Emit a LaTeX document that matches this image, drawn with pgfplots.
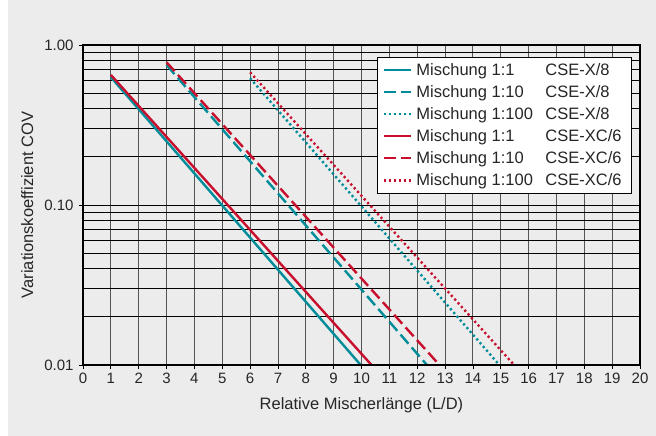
\documentclass[border=0pt]{standalone}
\usepackage{fontspec}
\setmainfont{Liberation Sans}
\usepackage{pgfplots}
\pgfplotsset{compat=1.18}
\usetikzlibrary{backgrounds,calc}
\definecolor{bggray}{RGB}{235,236,235}
\definecolor{myteal}{RGB}{0,140,153}
\definecolor{myred}{RGB}{200,16,46}
\definecolor{vgrid}{RGB}{85,85,85}
\begin{document}
\begin{tikzpicture}
\begin{axis}[
  scale only axis, width=557bp, height=320bp,
  xmin=0, xmax=20, ymode=log, log basis y=10, ymin=0.01, ymax=1,
  xtick={0,1,...,20},
  ytick={0.01,0.1,1}, yticklabels={0.01,0.10,1.00},
  minor ytick={0.02,0.03,0.04,0.05,0.06,0.07,0.08,0.09,0.2,0.3,0.4,0.5,0.6,0.7,0.8,0.9},
  /pgf/number format/assume math mode=true,
  tick label style={font=\fontsize{15bp}{18bp}\selectfont, text=black!85},
  label style={font=\fontsize{16.5bp}{19bp}\selectfont, text=black!85},
  tick pos=left, tick align=outside,
  major tick length=4bp, minor tick length=0bp,
  tick style={black, line width=0.8bp},
  xmajorgrids, ymajorgrids, yminorgrids,
  major x grid style={vgrid, line width=0.9bp},
  major y grid style={black, line width=1bp},
  minor y grid style={black, line width=0.9bp},
  axis line style={black, line width=1.2bp},
  axis background/.style={fill=bggray},
  xlabel={Relative Mischerlänge (L/D)},
  ylabel={Variationskoeffizient COV},
  xlabel style={at={(axis description cs:0.5,-0.125)}, anchor=center},
  ylabel style={at={(axis description cs:-0.1,0.5)}, anchor=center, rotate=0},
  xticklabel style={yshift=-1bp},
  yticklabel style={xshift=-2bp},
  legend style={at={(rel axis cs:0.9856,0.9625)}, anchor=north east,
    fill=white, draw=black, line width=0.8bp,
    font=\fontsize{16.5bp}{19bp}\selectfont, text=black!85,
    inner xsep=6bp, inner ysep=4bp, row sep=4.6bp,
    nodes={inner xsep=4bp}},
  legend cell align=left,
  legend image code/.code={\draw[#1] (0bp,0bp) -- (27bp,0bp);},
  every axis plot/.append style={line width=2.4bp},
]
\addplot[myteal] coordinates {(1,0.63) (9.97,0.01)};
\addlegendentry{\makebox[129bp][l]{Mischung 1:1}CSE-X/8}
\addplot[myteal, dash pattern=on 12bp off 5bp] coordinates {(3,0.75) (12.35,0.01)};
\addlegendentry{\makebox[129bp][l]{Mischung 1:10}CSE-X/8}
\addplot[myteal, dash pattern=on 2.2bp off 2.8bp] coordinates {(6,0.62) (14.95,0.01)};
\addlegendentry{\makebox[129bp][l]{Mischung 1:100}CSE-X/8}
\addplot[myred] coordinates {(1,0.65) (10.36,0.01)};
\addlegendentry{\makebox[129bp][l]{Mischung 1:1}CSE-XC/6}
\addplot[myred, dash pattern=on 12bp off 5bp] coordinates {(3,0.78) (12.8,0.01)};
\addlegendentry{\makebox[129bp][l]{Mischung 1:10}CSE-XC/6}
\addplot[myred, dash pattern=on 2.2bp off 2.8bp] coordinates {(6,0.675) (15.48,0.01)};
\addlegendentry{\makebox[129bp][l]{Mischung 1:100}CSE-XC/6}
\draw[black, line width=2bp] (rel axis cs:0,0) -- (rel axis cs:0,1);
\draw[black, line width=2bp] (rel axis cs:0,0) -- (rel axis cs:1,0);
\end{axis}
\begin{scope}[on background layer]
\fill[white] ($(current axis.south west)+(-83bp,-71bp)$) rectangle ($(current axis.north east)+(16bp,45bp)$);
\fill[bggray] ($(current axis.south west)+(-75bp,-71bp)$) rectangle ($(current axis.north east)+(16bp,45bp)$);
\end{scope}
\end{tikzpicture}
\end{document}
